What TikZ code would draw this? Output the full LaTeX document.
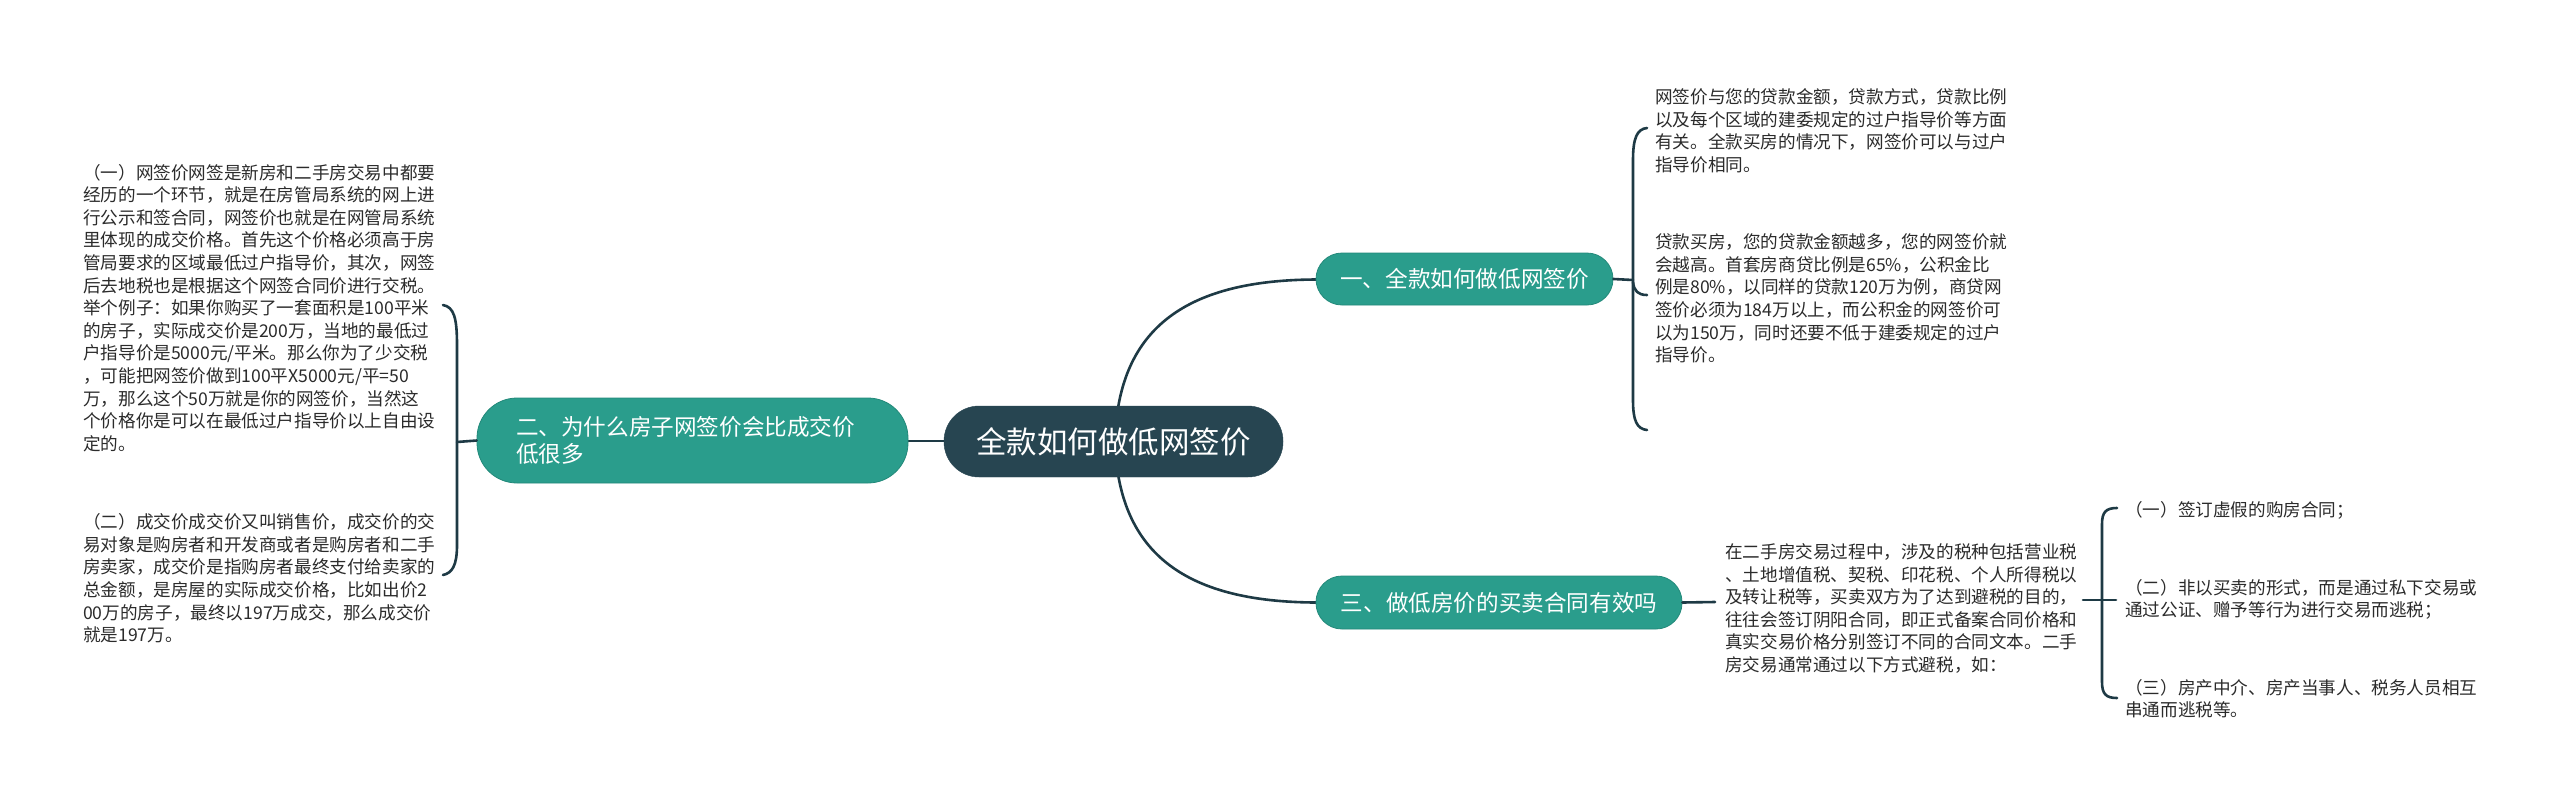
\documentclass[tikz,border=0pt]{standalone}
\usepackage{fontspec}
\newfontfamily\cjk{Noto Sans CJK SC}
\definecolor{teal1}{HTML}{2A9D8C}
\definecolor{tealdk}{HTML}{23897A}
\definecolor{central}{HTML}{274551}
\definecolor{linec}{HTML}{1E3A45}
\definecolor{txt}{HTML}{2B2B2B}
\tikzset{
  para/.style={anchor=base west, inner sep=0pt, text width=420pt, align=left, text=txt,
    font=\cjk\fontsize{17.6}{22.6}\selectfont},
  paratight/.style={para, font=\cjk\fontsize{17.6}{21.5}\selectfont},
  topic/.style={fill=teal1, draw=tealdk, line width=0.8pt, text=white, rounded corners=26pt,
    inner sep=0pt, font=\cjk\fontsize{22.6}{27}\selectfont},
  conn/.style={draw=linec, line width=2.6pt, line cap=round}
}
\begin{document}
\begin{tikzpicture}[x=1pt,y=-1pt]
\useasboundingbox[fill=white] (0,0) rectangle (2560,804);

% nodes (positions)
\coordinate (cc) at (1115,441);
% connectors first
\draw[conn] (cc) .. controls (1118,325) and (1190,280) .. (1316,279.5);
\draw[conn] (cc) .. controls (1118,557) and (1190,602) .. (1316,602.5);
\draw[conn] (cc) -- (690,441);

% left brace
\coordinate (lbj) at (457,442);
\draw[conn] (443,305) .. controls (454,307) and (457,318) .. (457,345) -- (457,545) .. controls (457,566) and (452,573) .. (443,575);
% upper right brace
\coordinate (rbj) at (1633,280);
\draw[conn] (1647,128) .. controls (1637,129) and (1633,138) .. (1633,160) -- (1633,400) .. controls (1633,421) and (1637,429) .. (1647,430);
\draw[conn] (1633,282) .. controls (1634,291) and (1638,295) .. (1647,295);
% lower right bracket
\coordinate (lrj) at (2102,600);
\draw[conn] (2117,508) .. controls (2106,508) and (2102,512) .. (2102,524) -- (2102,682) .. controls (2102,694) and (2106,698) .. (2117,698);
\draw[conn] (lrj) -- (2116,600);

% main nodes
\node[fill=central, draw=central, rounded corners=35pt, minimum width=339pt, minimum height=71pt, inner sep=0pt,
  text=white, font=\cjk\fontsize{30.5}{34}\selectfont] (c) at (1113.5,441.5) {全款如何做低网签价};
\node[topic, minimum width=431pt, minimum height=85pt, text width=353pt, align=left, rounded corners=40pt] (n2) at (692.5,440.5)
  {二、为什么房子网签价会比成交价\\低很多};
\node[topic, minimum width=297pt, minimum height=52pt] (n1) at (1464.5,279) {一、全款如何做低网签价};
\node[topic, minimum width=366pt, minimum height=53pt] (n3) at (1499,602.5) {三、做低房价的买卖合同有效吗};

% short connectors
\draw[conn] (n2.west) -- (lbj);
\draw[conn] (n1.east) -- (rbj);
\draw[conn] (n3.east) -- (1715,602);

% left texts
\node[para] (l1) at (83,179) {（一）网签价网签是新房和二手房交易中都要\\经历的一个环节，就是在房管局系统的网上进\\行公示和签合同，网签价也就是在网管局系统\\里体现的成交价格。首先这个价格必须高于房\\管局要求的区域最低过户指导价，其次，网签\\后去地税也是根据这个网签合同价进行交税。\\举个例子：如果你购买了一套面积是100平米\\的房子，实际成交价是200万，当地的最低过\\户指导价是5000元/平米。那么你为了少交税\\，可能把网签价做到100平X5000元/平=50\\万，那么这个50万就是你的网签价，当然这\\个价格你是可以在最低过户指导价以上自由设\\定的。};
\node[para] (l2) at (83,528.7) {（二）成交价成交价又叫销售价，成交价的交\\易对象是购房者和开发商或者是购房者和二手\\房卖家，成交价是指购房者最终支付给卖家的\\总金额，是房屋的实际成交价格，比如出价2\\00万的房子，最终以197万成交，那么成交价\\就是197万。};

% upper right texts
\node[para] (r1) at (1655,103.5) {网签价与您的贷款金额，贷款方式，贷款比例\\以及每个区域的建委规定的过户指导价等方面\\有关。全款买房的情况下，网签价可以与过户\\指导价相同。};
\node[para] (r2) at (1655,248.7) {贷款买房，您的贷款金额越多，您的网签价就\\会越高。首套房商贷比例是65\%，公积金比\\例是80\%，以同样的贷款120万为例，商贷网\\签价必须为184万以上，而公积金的网签价可\\以为150万，同时还要不低于建委规定的过户\\指导价。};

% lower middle text
\node[para] (m) at (1725,558.5) {在二手房交易过程中，涉及的税种包括营业税\\、土地增值税、契税、印花税、个人所得税以\\及转让税等，买卖双方为了达到避税的目的，\\往往会签订阴阳合同，即正式备案合同价格和\\真实交易价格分别签订不同的合同文本。二手\\房交易通常通过以下方式避税，如：};
\draw[conn] (2083,600) -- (lrj);

% lower right texts
\node[paratight] (k1) at (2125,516.7) {（一）签订虚假的购房合同；};
\node[paratight] (k2) at (2125,594.7) {（二）非以买卖的形式，而是通过私下交易或\\通过公证、赠予等行为进行交易而逃税；};
\node[paratight] (k3) at (2125,694.7) {（三）房产中介、房产当事人、税务人员相互\\串通而逃税等。};
\end{tikzpicture}
\end{document}
